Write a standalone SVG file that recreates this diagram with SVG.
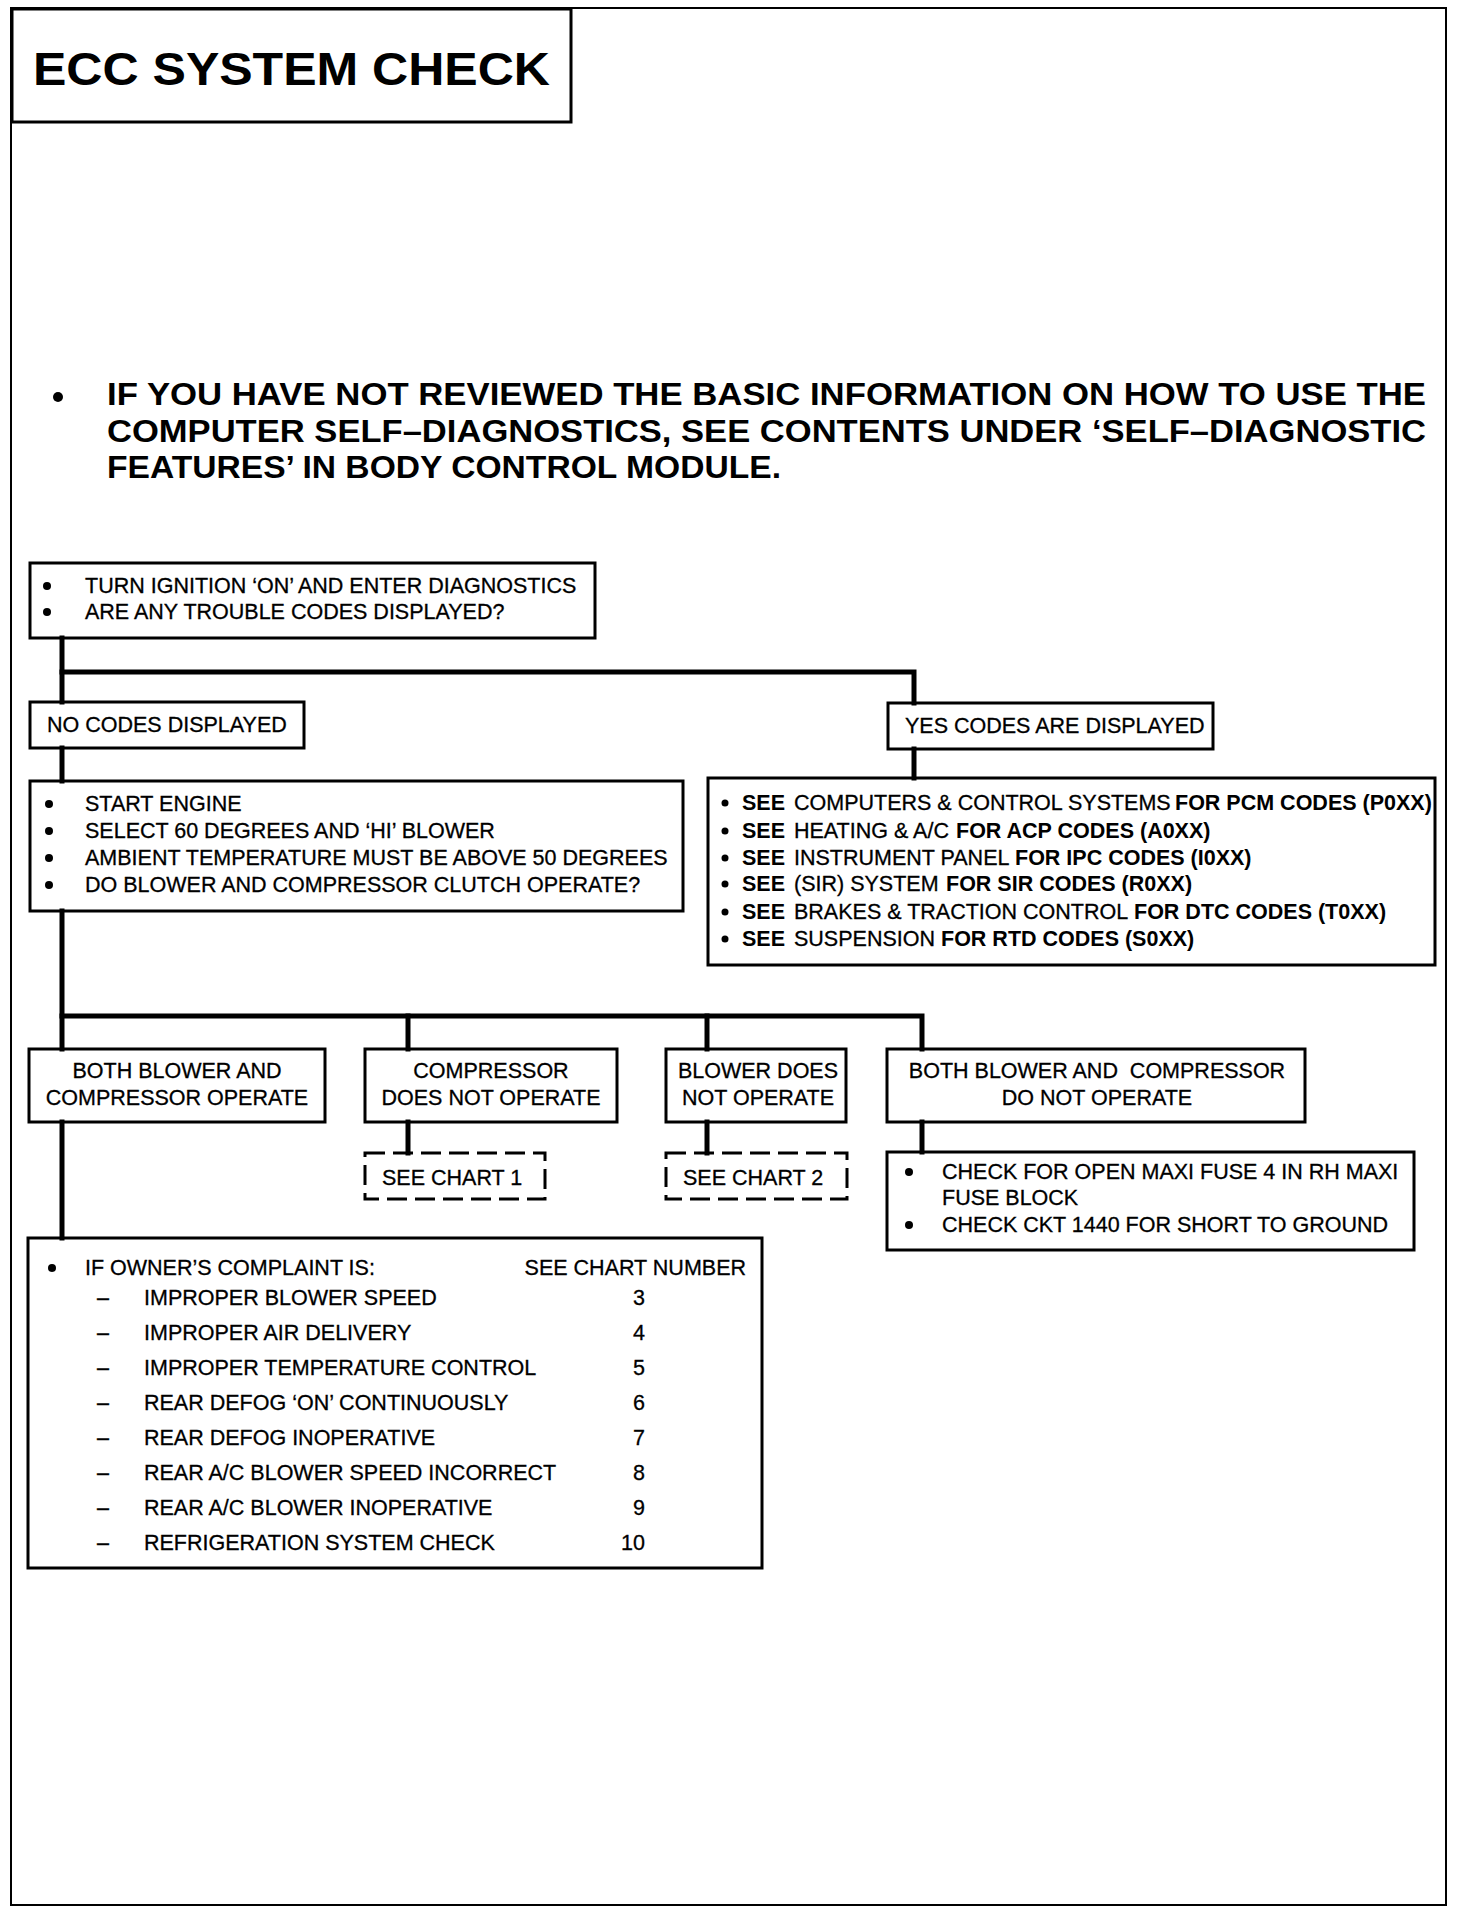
<svg xmlns="http://www.w3.org/2000/svg" width="1472" height="1914" viewBox="0 0 1472 1914">
<style>
.frame{fill:none;stroke:#000;stroke-width:2}
.box{fill:none;stroke:#000;stroke-width:3}
.dash{fill:none;stroke:#000;stroke-width:3;stroke-dasharray:20 8}
.conn{fill:none;stroke:#000;stroke-width:5;stroke-linecap:square}
text{font-family:"Liberation Sans",Arial,Helvetica,sans-serif;font-size:21.5px;fill:#000;stroke:#000;stroke-width:0.3}
.b{font-weight:bold;stroke-width:0}
.c{text-anchor:middle}
.e{text-anchor:end}
.dot{fill:#000}
</style>
<rect width="1472" height="1914" fill="#fff"/>
<rect class="frame" x="11" y="8" width="1435" height="1897"/>

<g id="title">
<rect class="box" x="12" y="9" width="559" height="113"/>
<text x="33" y="85" class="b" style="font-size:46px" textLength="517" lengthAdjust="spacingAndGlyphs">ECC SYSTEM CHECK</text>
</g>

<g id="intro">
<circle class="dot" cx="58" cy="397" r="5"/>
<text x="107" y="405" class="b" style="font-size:32px" textLength="1319" lengthAdjust="spacingAndGlyphs">IF YOU HAVE NOT REVIEWED THE BASIC INFORMATION ON HOW TO USE THE</text>
<text x="107" y="442" class="b" style="font-size:32px" textLength="1319" lengthAdjust="spacingAndGlyphs">COMPUTER SELF–DIAGNOSTICS, SEE CONTENTS UNDER ‘SELF–DIAGNOSTIC</text>
<text x="107" y="478" class="b" style="font-size:32px" textLength="674" lengthAdjust="spacingAndGlyphs">FEATURES’ IN BODY CONTROL MODULE.</text>
</g>

<g id="connectors">
<path class="conn" d="M62,638 V702"/>
<path class="conn" d="M62,672 H914 V703"/>
<path class="conn" d="M914,749 V778"/>
<path class="conn" d="M62,748 V781"/>
<path class="conn" d="M62,911 V1049"/>
<path class="conn" d="M62,1016 H922 V1049"/>
<path class="conn" d="M408,1016 V1049"/>
<path class="conn" d="M707,1016 V1049"/>
<path class="conn" d="M408,1122 V1153"/>
<path class="conn" d="M707,1122 V1153"/>
<path class="conn" d="M922,1122 V1152"/>
<path class="conn" d="M62,1122 V1238"/>
</g>

<g id="start">
<rect class="box" x="30" y="563" width="565" height="75"/>
<circle class="dot" cx="47" cy="586" r="4"/>
<text x="85" y="593">TURN IGNITION ‘ON’ AND ENTER DIAGNOSTICS</text>
<circle class="dot" cx="47" cy="612" r="4"/>
<text x="85" y="619">ARE ANY TROUBLE CODES DISPLAYED?</text>
</g>

<g id="no-codes">
<rect class="box" x="30" y="702" width="274" height="46"/>
<text x="47" y="732">NO CODES DISPLAYED</text>
</g>

<g id="yes-codes">
<rect class="box" x="888" y="703" width="325" height="46"/>
<text x="905" y="733">YES CODES ARE DISPLAYED</text>
</g>

<g id="engine">
<rect class="box" x="30" y="781" width="653" height="130"/>
<circle class="dot" cx="49" cy="804" r="4"/>
<text x="85" y="811">START ENGINE</text>
<circle class="dot" cx="49" cy="831" r="4"/>
<text x="85" y="838">SELECT 60 DEGREES AND ‘HI’ BLOWER</text>
<circle class="dot" cx="49" cy="858" r="4"/>
<text x="85" y="865">AMBIENT TEMPERATURE MUST BE ABOVE 50 DEGREES</text>
<circle class="dot" cx="49" cy="885" r="4"/>
<text x="85" y="892">DO BLOWER AND COMPRESSOR CLUTCH OPERATE?</text>
</g>

<g id="see-codes">
<rect class="box" x="708" y="778" width="727" height="187"/>
<circle class="dot" cx="725" cy="803" r="3.5"/>
<text x="742" y="810" class="b">SEE</text><text x="794" y="810">COMPUTERS &amp; CONTROL SYSTEMS</text><text x="1175" y="810" class="b">FOR PCM CODES (P0XX)</text>
<circle class="dot" cx="725" cy="831" r="3.5"/>
<text x="742" y="838" class="b">SEE</text><text x="794" y="838">HEATING &amp; A/C</text><text x="956" y="838" class="b">FOR ACP CODES (A0XX)</text>
<circle class="dot" cx="725" cy="858" r="3.5"/>
<text x="742" y="865" class="b">SEE</text><text x="794" y="865">INSTRUMENT PANEL</text><text x="1015" y="865" class="b">FOR IPC CODES (I0XX)</text>
<circle class="dot" cx="725" cy="884" r="3.5"/>
<text x="742" y="891" class="b">SEE</text><text x="794" y="891">(SIR) SYSTEM</text><text x="946" y="891" class="b">FOR SIR CODES (R0XX)</text>
<circle class="dot" cx="725" cy="912" r="3.5"/>
<text x="742" y="919" class="b">SEE</text><text x="794" y="919">BRAKES &amp; TRACTION CONTROL</text><text x="1134" y="919" class="b">FOR DTC CODES (T0XX)</text>
<circle class="dot" cx="725" cy="939" r="3.5"/>
<text x="742" y="946" class="b">SEE</text><text x="794" y="946">SUSPENSION</text><text x="941" y="946" class="b">FOR RTD CODES (S0XX)</text>
</g>

<g id="both-operate">
<rect class="box" x="29" y="1049" width="296" height="73"/>
<text x="177" y="1078" class="c">BOTH BLOWER AND</text>
<text x="177" y="1105" class="c">COMPRESSOR OPERATE</text>
</g>

<g id="compressor-not">
<rect class="box" x="365" y="1049" width="252" height="73"/>
<text x="491" y="1078" class="c">COMPRESSOR</text>
<text x="491" y="1105" class="c">DOES NOT OPERATE</text>
</g>

<g id="blower-not">
<rect class="box" x="666" y="1049" width="180" height="73"/>
<text x="758" y="1078" class="c">BLOWER DOES</text>
<text x="758" y="1105" class="c">NOT OPERATE</text>
</g>

<g id="both-not">
<rect class="box" x="887" y="1049" width="418" height="73"/>
<text x="1097" y="1078" class="c" xml:space="preserve">BOTH BLOWER AND  COMPRESSOR</text>
<text x="1097" y="1105" class="c">DO NOT OPERATE</text>
</g>

<g id="chart1">
<rect class="dash" x="365" y="1153" width="180" height="46"/>
<text x="382" y="1185">SEE CHART 1</text>
</g>

<g id="chart2">
<rect class="dash" x="666" y="1153" width="181" height="46"/>
<text x="683" y="1185">SEE CHART 2</text>
</g>

<g id="fuse-check">
<rect class="box" x="887" y="1152" width="527" height="98"/>
<circle class="dot" cx="909" cy="1172" r="4"/>
<text x="942" y="1179">CHECK FOR OPEN MAXI FUSE 4 IN RH MAXI</text>
<text x="942" y="1205">FUSE BLOCK</text>
<circle class="dot" cx="909" cy="1225" r="4"/>
<text x="942" y="1232">CHECK CKT 1440 FOR SHORT TO GROUND</text>
</g>

<g id="complaints">
<rect class="box" x="28" y="1238" width="734" height="330"/>
<circle class="dot" cx="52" cy="1268" r="4"/>
<text x="85" y="1275">IF OWNER’S COMPLAINT IS:</text>
<text x="746" y="1275" class="e">SEE CHART NUMBER</text>
<text x="97" y="1305">–</text><text x="144" y="1305">IMPROPER BLOWER SPEED</text><text x="645" y="1305" class="e">3</text>
<text x="97" y="1340">–</text><text x="144" y="1340">IMPROPER AIR DELIVERY</text><text x="645" y="1340" class="e">4</text>
<text x="97" y="1375">–</text><text x="144" y="1375">IMPROPER TEMPERATURE CONTROL</text><text x="645" y="1375" class="e">5</text>
<text x="97" y="1410">–</text><text x="144" y="1410">REAR DEFOG ‘ON’ CONTINUOUSLY</text><text x="645" y="1410" class="e">6</text>
<text x="97" y="1445">–</text><text x="144" y="1445">REAR DEFOG INOPERATIVE</text><text x="645" y="1445" class="e">7</text>
<text x="97" y="1480">–</text><text x="144" y="1480">REAR A/C BLOWER SPEED INCORRECT</text><text x="645" y="1480" class="e">8</text>
<text x="97" y="1515">–</text><text x="144" y="1515">REAR A/C BLOWER INOPERATIVE</text><text x="645" y="1515" class="e">9</text>
<text x="97" y="1550">–</text><text x="144" y="1550">REFRIGERATION SYSTEM CHECK</text><text x="645" y="1550" class="e">10</text>
</g>
</svg>
